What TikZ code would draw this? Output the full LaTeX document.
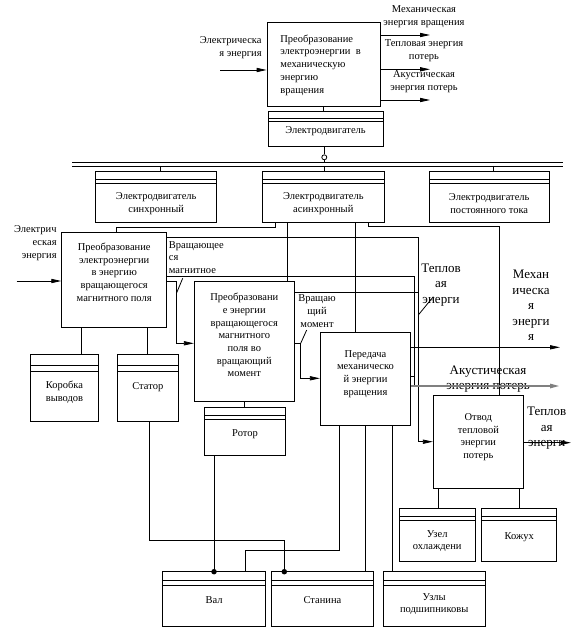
\documentclass[tikz,border=0pt]{standalone}
\usepackage{fontspec}
\setmainfont{Liberation Serif}
\usetikzlibrary{arrows.meta,fit}
\begin{document}
\begin{tikzpicture}[x=1pt,y=-1pt,line width=0.8pt,
  func/.style={draw,rectangle,inner sep=0pt},
  entity/.style 2 args={draw,rectangle,inner sep=0pt,
    path picture={\draw[line width=0.8pt] ([yshift=-#1pt]path picture bounding box.north west) -- ([yshift=-#1pt]path picture bounding box.north east);
                  \draw[line width=0.8pt] ([yshift=-#2pt]path picture bounding box.north west) -- ([yshift=-#2pt]path picture bounding box.north east);}},
  small/.style={font=\fontsize{10.5}{12.7}\selectfont,inner sep=0pt,align=center},
  big/.style={font=\fontsize{13}{15.5}\selectfont,inner sep=0pt,align=center},
  arr/.style={-{Triangle[length=10pt,width=4.2pt]}},
  dot/.style={circle,fill,inner sep=0pt,minimum size=5.5pt},
  hub/.style={circle,draw,fill=white,inner sep=0pt,minimum size=5pt}]
\useasboundingbox (0,0) rectangle (581,628);

% ---------- boxes ----------
\node[func,fit={(267,22) (380,106)}] (A0) {};
\node[entity={6.7}{9.3},fit={(268,111.7) (383,146.7)}] (motor) {};
\node[entity={7.7}{11.7},fit={(95.7,171.7) (216.7,222.7)}] (sync) {};
\node[entity={7.7}{11.7},fit={(262.7,171.7) (384,222.7)}] (async) {};
\node[entity={7.7}{11.7},fit={(429.3,171.7) (549,222.7)}] (dc) {};

\node[func,fit={(61.7,232.3) (166.7,327.3)}] (B1) {};
\node[func,fit={(194.3,281.7) (294.3,401.7)}] (B2) {};
\node[func,fit={(320.3,332.7) (410.7,425.3)}] (B3) {};
\node[func,fit={(433.3,395) (523.3,488.3)}] (B4) {};

\node[entity={11}{17},fit={(30.7,354.3) (98.3,421.7)}] (korob) {};
\node[entity={11}{17},fit={(117.3,354.3) (178.3,421.7)}] (stator) {};
\node[entity={7.7}{12},fit={(204.3,407.3) (285.7,455.7)}] (rotor) {};
\node[entity={8.3}{12.3},fit={(399.3,508.3) (475,561.7)}] (uzel) {};
\node[entity={8.3}{12.3},fit={(481.7,508.3) (556.7,561.7)}] (kozh) {};
\node[entity={8.3}{13.3},fit={(162.7,571.7) (265.7,626.7)}] (val) {};
\node[entity={8.3}{13.3},fit={(271.7,571.7) (373.3,626.7)}] (stan) {};
\node[entity={8.3}{13.3},fit={(383.3,571.7) (485,626.7)}] (podsh) {};

% ---------- texts ----------
\node[small,align=left,anchor=west] (A0t) at (280,65) {Преобразование\\электроэнергии~~в\\механическую\\энергию\\вращения};
\node[small,align=right,anchor=east] (inAt) at (262,47.5) {Электрическа\\я энергия};
\node[small] (o1t) at (424,16.5) {Механическая\\энергия вращения};
\node[small] (o2t) at (424,51) {Тепловая энергия\\потерь};
\node[small] (o3t) at (424,82) {Акустическая\\энергия потерь};
\node[small] (motort) at (325.5,131) {Электродвигатель};
\node[small] (synct) at (156.2,203.4) {Электродвигатель\\синхронный};
\node[small] (asynct) at (323.3,203.4) {Электродвигатель\\асинхронный};
\node[small] (dct) at (489.2,203.4) {Электродвигатель\\постоянного тока};

\node[small] (B1t) at (114.2,272) {Преобразование\\электроэнергии\\в энергию\\вращающегося\\магнитного поля};
\node[small,align=right,anchor=east] (inBt) at (57,243) {Электрич\\еская\\энергия};
\node[small] (B2t) at (244.3,335) {Преобразовани\\е энергии\\вращающегося\\магнитного\\поля во\\вращающий\\момент};
\node[small] (B3t) at (365.5,374) {Передача\\механическо\\й энергии\\вращения};
\node[small] (B4t) at (478.3,437) {Отвод\\тепловой\\энергии\\потерь};

\node[small] (korobt) at (64.5,392) {Коробка\\выводов};
\node[small] (statort) at (147.8,386.7) {Статор};
\node[small] (rotort) at (245,434) {Ротор};
\node[small] (uzelt) at (437.2,541) {Узел\\охлаждени};
\node[small] (kozht) at (519.2,536.7) {Кожух};
\node[small] (valt) at (214.2,600) {Вал};
\node[small] (stant) at (322.5,600) {Станина};
\node[small] (podsht) at (434.2,604) {Узлы\\подшипниковы};

\node[small,align=left,anchor=west] (magt) at (168.5,257.5) {Вращающее\\ся\\магнитное};
\node[small] (torqt) at (317,311.3) {Вращаю\\щий\\момент};
\node[big] (heat1t) at (441,285) {Теплов\\ая\\энерги};
\node[big] (mecht) at (531,305.7) {Механ\\ическа\\я\\энерги\\я};
\node[big] (acoust) at (488,379) {Акустическая\\энергия потерь};
\node[big] (heat2t) at (546.7,428.5) {Теплов\\ая\\энерги};

% ---------- top connectors ----------
\coordinate (inA) at (220,70);
\draw[arr] (inA) -- (inA -| A0.west);
\coordinate (o1) at (430,35);
\coordinate (o2) at (430,69.3);
\coordinate (o3) at (430,100);
\draw[arr] (o1 -| A0.east) -- (o1);
\draw[arr] (o2 -| A0.east) -- (o2);
\draw[arr] (o3 -| A0.east) -- (o3);
\draw (A0.south) -- (A0.south |- motor.north);

\node[hub] (hub) at (324.3,157.3) {};
\draw (hub.north |- motor.south) -- (hub.north);
\coordinate (bus1L) at (72,162.7);
\coordinate (bus1R) at (563,162.7);
\coordinate (bus2L) at (72,166);
\coordinate (bus2R) at (563,166);
\draw (hub.south) -- (hub.south |- bus1L);
\draw (bus1L) -- (bus1R);
\draw (bus2L) -- (bus2R);
\draw (160,0 |- bus2L) -- (160,0 |- sync.north);
\draw (324.3,0 |- bus2L) -- (324.3,0 |- async.north);
\draw (493.3,0 |- bus2L) -- (493.3,0 |- dc.north);

% ---------- mechanism lines from the asynchronous motor ----------
\draw (275,0 |- async.south) |- (116.7,227.3) -- (116.7,0 |- B1.north);
\draw (287.5,0 |- async.south) -- (287.5,0 |- B2.north);
\draw (355.5,0 |- async.south) -- (355.5,0 |- B3.north);
\draw (368,0 |- async.south) |- (499.3,226) -- (499.3,0 |- B4.north);

% ---------- inputs / outputs ----------
\coordinate (inB) at (16.7,281);
\draw[arr] (inB) -- (inB -| B1.west);
\draw[arr] (B1.east |- 0,237.3) -| (418.3,441.7) -- (B4.west |- 0,441.7);
\draw (B1.east |- 0,276.7) -| (414.3,386);
\draw[arr] (B1.east |- 0,281) -| (176.7,343.3) -- (B2.west |- 0,343.3);
\draw (B2.east |- 0,292.3) -- (418.3,292.3);
\draw[arr] (B2.east |- 0,343.3) -| (300.7,378.3) -- (B3.west |- 0,378.3);
\coordinate (mechE) at (560,347.3);
\draw[arr] (mechE -| B3.east) -- (mechE);
\draw (B3.east |- 0,376.7) -- (414.3,376.7);
\coordinate (acE) at (560,386);
\draw[arr,draw=gray,line width=2pt,fill=black] (acE -| B3.east) -- (acE);
\coordinate (heatE) at (571,442.7);
\draw[arr] (heatE -| B4.east) -- (heatE);

% label leaders
\draw (176.7,292.7) -- (182.7,278.3);
\draw (300.7,343.3) -- (306.7,330);
\draw (418.3,315) -- (433.3,296.7);

% ---------- mechanisms below ----------
\draw (81.7,0 |- B1.south) -- (81.7,0 |- korob.north);
\draw (147.7,0 |- B1.south) -- (147.7,0 |- stator.north);
\draw (244.7,0 |- B2.south) -- (244.7,0 |- rotor.north);
\draw (438.3,0 |- B4.south) -- (438.3,0 |- uzel.north);
\draw (519.3,0 |- B4.south) -- (519.3,0 |- kozh.north);

\node[dot] (d1) at (214,571.7) {};
\node[dot] (d2) at (284.3,571.7) {};
\draw (214,0 |- rotor.south) -- (d1.center);
\draw (149.3,0 |- stator.south) |- (284.3,540.3) -- (d2.center);
\draw (339.3,0 |- B3.south) |- (245.3,550.3) -- (245.3,0 |- val.north);
\draw (365.5,0 |- B3.south) -- (365.5,0 |- stan.north);
\draw (392.5,0 |- B3.south) -- (392.5,0 |- podsh.north);
\end{tikzpicture}
\end{document}
